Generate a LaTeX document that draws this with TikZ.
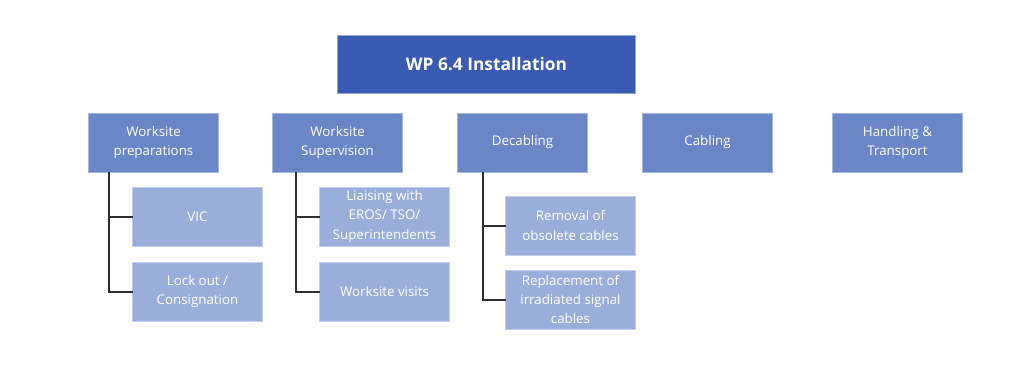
\documentclass[tikz,border=0pt]{standalone}
\usepackage{fontspec}
\setmainfont{Open Sans}
\usepackage{xcolor}
\usetikzlibrary{positioning}
\definecolor{rootblue}{HTML}{3A5BB3}
\definecolor{taskblue}{HTML}{6B86C6}
\definecolor{subblue}{HTML}{9AAEDC}
\definecolor{linkgray}{HTML}{2E2E2E}
\tikzset{
  wpbox/.style={draw, line width=0.6pt, text=white, align=center, outer sep=0pt,
                minimum width=97.5pt, minimum height=44.25pt, inner sep=2pt,
                font=\fontsize{10}{14.5}\selectfont},
  wproot/.style={wpbox, fill=rootblue, draw=rootblue!55!white,
                 minimum width=223.5pt, minimum height=43.5pt,
                 font=\fontsize{13}{15}\selectfont\bfseries},
  wptask/.style={wpbox, fill=taskblue, draw=taskblue!60!white},
  wpsub/.style={wpbox, fill=subblue, draw=subblue!60!white},
  link/.style={draw=linkgray, line width=1.5pt}
}
\begin{document}
\begin{tikzpicture}
  \useasboundingbox (-115.125pt,-177.375pt) rectangle (652.875pt,106.875pt);
  % work packages
  \node[wptask] (prep) at (0,0) {Worksite\\preparations};
  \node[wptask, right=40.5pt of prep] (sup) {Worksite\\Supervision};
  \node[wptask, right=41.25pt of sup] (dec) {Decabling};
  \node[wptask, right=41.25pt of dec] (cab) {Cabling};
  \node[wptask, right=45pt of cab] (hand) {Handling \&\\Transport};
  \node[wproot, above=15pt of dec, xshift=-27pt] (root) {WP 6.4 Installation};
  % sub tasks
  \node[wpsub, below=11.25pt of prep.south west, anchor=north west, xshift=33pt] (vic) {VIC};
  \node[wpsub, below=12pt of vic] (lock) {Lock out /\\Consignation};
  \node[wpsub, below=11.25pt of sup.south west, anchor=north west, xshift=35.25pt] (lia) {Liaising with\\EROS/ TSO/\\Superintendents};
  \node[wpsub, below=12pt of lia] (vis) {Worksite visits};
  \node[wpsub, below=18pt of dec.south west, anchor=north west, xshift=36pt] (rem) {Removal of\\obsolete cables};
  \node[wpsub, below=11.25pt of rem] (rep) {Replacement of\\irradiated signal\\cables};
  % stems
  \coordinate (prepstem) at ([xshift=15.5pt]prep.south west);
  \coordinate (supstem) at ([xshift=17.8pt]sup.south west);
  \coordinate (decstem) at ([xshift=18.75pt]dec.south west);
  \foreach \s/\c in {prepstem/lock,prepstem/vic,supstem/vis,supstem/lia,decstem/rep,decstem/rem}
    \draw[link] (\s) |- (\c.west);
\end{tikzpicture}
\end{document}
